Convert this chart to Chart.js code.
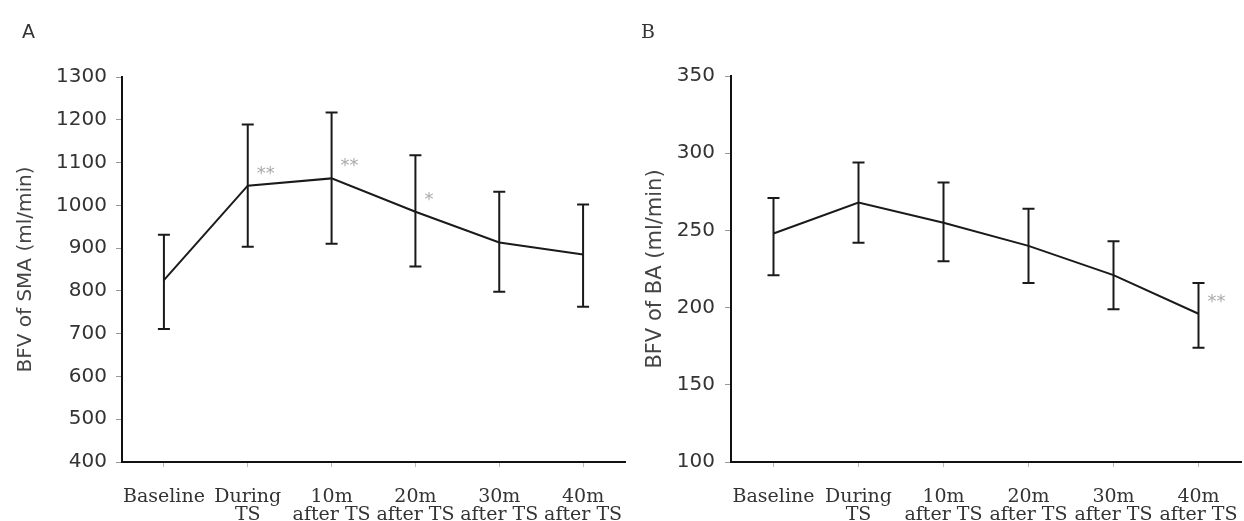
<!DOCTYPE html>
<html>
<head>
<meta charset="utf-8">
<script src="https://cdn.jsdelivr.net/npm/chart.js@4.4.0/dist/chart.umd.min.js"></script>
<style>
  body { margin: 0; background: #fff; }
  #wrap { position: relative; width: 1244px; height: 521px; overflow: hidden; }
  canvas { position: absolute; top: 0; }
  .panel { position: absolute; color: #333; }
</style>
</head>
<body>
<div id="wrap">
  <canvas id="chartA" width="640" height="521" style="left:0"></canvas>
  <canvas id="chartB" width="624" height="521" style="left:620px"></canvas>
  <div class="panel" style="left:22px; top:20px; font: 19px 'DejaVu Sans';">A</div>
  <div class="panel" style="left:641px; top:20px; font: 19px 'DejaVu Serif';">B</div>
</div>
<script>
const categories = [
  'Baseline',
  ['During', 'TS'],
  ['10m', 'after TS'],
  ['20m', 'after TS'],
  ['30m', 'after TS'],
  ['40m', 'after TS']
];

// Panel A: SMA
const meanA = [825, 1046, 1063, 985, 913, 885];
const upperA = [931, 1189, 1217, 1117, 1032, 1002];
const lowerA = [711, 903, 910, 857, 798, 763];
const sigA = ['', '**', '**', '*', '', ''];

// Panel B: BA
const meanB = [248, 268, 255, 240, 221, 196];
const upperB = [271, 294, 281, 264, 243, 216];
const lowerB = [221, 242, 230, 216, 199, 174];
const sigB = ['', '', '', '', '', '**'];

const errorBars = {
  id: 'errorBars',
  afterDatasetsDraw(chart, args, opts) {
    const { ctx } = chart;
    const x = chart.scales.x, y = chart.scales.y;
    ctx.save();
    ctx.strokeStyle = '#1a1a1a';
    ctx.lineWidth = 2;
    opts.upper.forEach((u, i) => {
      const px = x.getPixelForValue(i);
      const top = y.getPixelForValue(u);
      const bot = y.getPixelForValue(opts.lower[i]);
      ctx.beginPath();
      ctx.moveTo(px, top); ctx.lineTo(px, bot);
      ctx.moveTo(px - 6, top); ctx.lineTo(px + 6, top);
      ctx.moveTo(px - 6, bot); ctx.lineTo(px + 6, bot);
      ctx.stroke();
    });
    // significance marks
    ctx.fillStyle = '#aaa';
    ctx.font = '18px "DejaVu Sans"';
    ctx.textAlign = 'left';
    ctx.textBaseline = 'alphabetic';
    opts.sig.forEach((s, i) => {
      if (!s) return;
      const px = x.getPixelForValue(i);
      const py = chart.getDatasetMeta(0).data[i].y;
      ctx.fillText(s, px + 9, py - 7);
    });
    ctx.restore();
  }
};

function makeChart(id, mean, upper, lower, sig, yMin, yMax, yStep, cfg) {
  return new Chart(document.getElementById(id).getContext('2d'), {
    type: 'line',
    data: {
      labels: categories,
      datasets: [{
        data: mean,
        borderColor: '#1a1a1a',
        borderWidth: 2,
        pointRadius: 0,
        tension: 0,
        fill: false
      }]
    },
    options: {
      responsive: false,
      animation: false,
      layout: { padding: { top: cfg.top, right: cfg.right, left: 0, bottom: 0 } },
      plugins: {
        legend: { display: false },
        tooltip: { enabled: false },
        errorBars: { upper: upper, lower: lower, sig: sig }
      },
      scales: {
        x: {
          offset: true,
          afterFit: (s) => { s.height = 59; s.paddingLeft = 0; s.paddingRight = 0; },
          grid: { display: true, drawOnChartArea: false, drawTicks: true, tickLength: 5, color: '#bbb' },
          border: { display: true, color: '#111', width: 2 },
          ticks: {
            color: '#333',
            padding: 21,
            maxRotation: 0,
            autoSkip: false,
            font: { family: 'DejaVu Serif', size: 19, lineHeight: 0.95 }
          }
        },
        y: {
          min: yMin,
          max: yMax,
          afterFit: (s) => { s.width = cfg.axisLeft; },
          grid: { display: true, drawOnChartArea: false, drawTicks: true, tickLength: 6, color: '#999' },
          border: { display: true, color: '#111', width: 2 },
          ticks: {
            stepSize: yStep,
            color: '#333',
            padding: cfg.tickPad,
            font: { family: 'DejaVu Sans', size: 20 },
            callback: (v) => String(v)
          },
          title: {
            display: true,
            text: cfg.title,
            color: '#444',
            padding: { top: cfg.titlePad, bottom: 0 },
            font: { family: 'DejaVu Sans', size: cfg.titleSize }
          }
        }
      }
    },
    plugins: [errorBars]
  });
}

makeChart('chartA', meanA, upperA, lowerA, sigA, 400, 1300, 100,
  { top: 77, right: 15, axisLeft: 122, tickPad: 9, title: 'BFV of SMA (ml/min)', titlePad: 14, titleSize: 20 });
makeChart('chartB', meanB, upperB, lowerB, sigB, 100, 350, 50,
  { top: 76, right: 3, axisLeft: 111, tickPad: 10, title: 'BFV of BA (ml/min)', titlePad: 23, titleSize: 21 });
</script>
</body>
</html>
